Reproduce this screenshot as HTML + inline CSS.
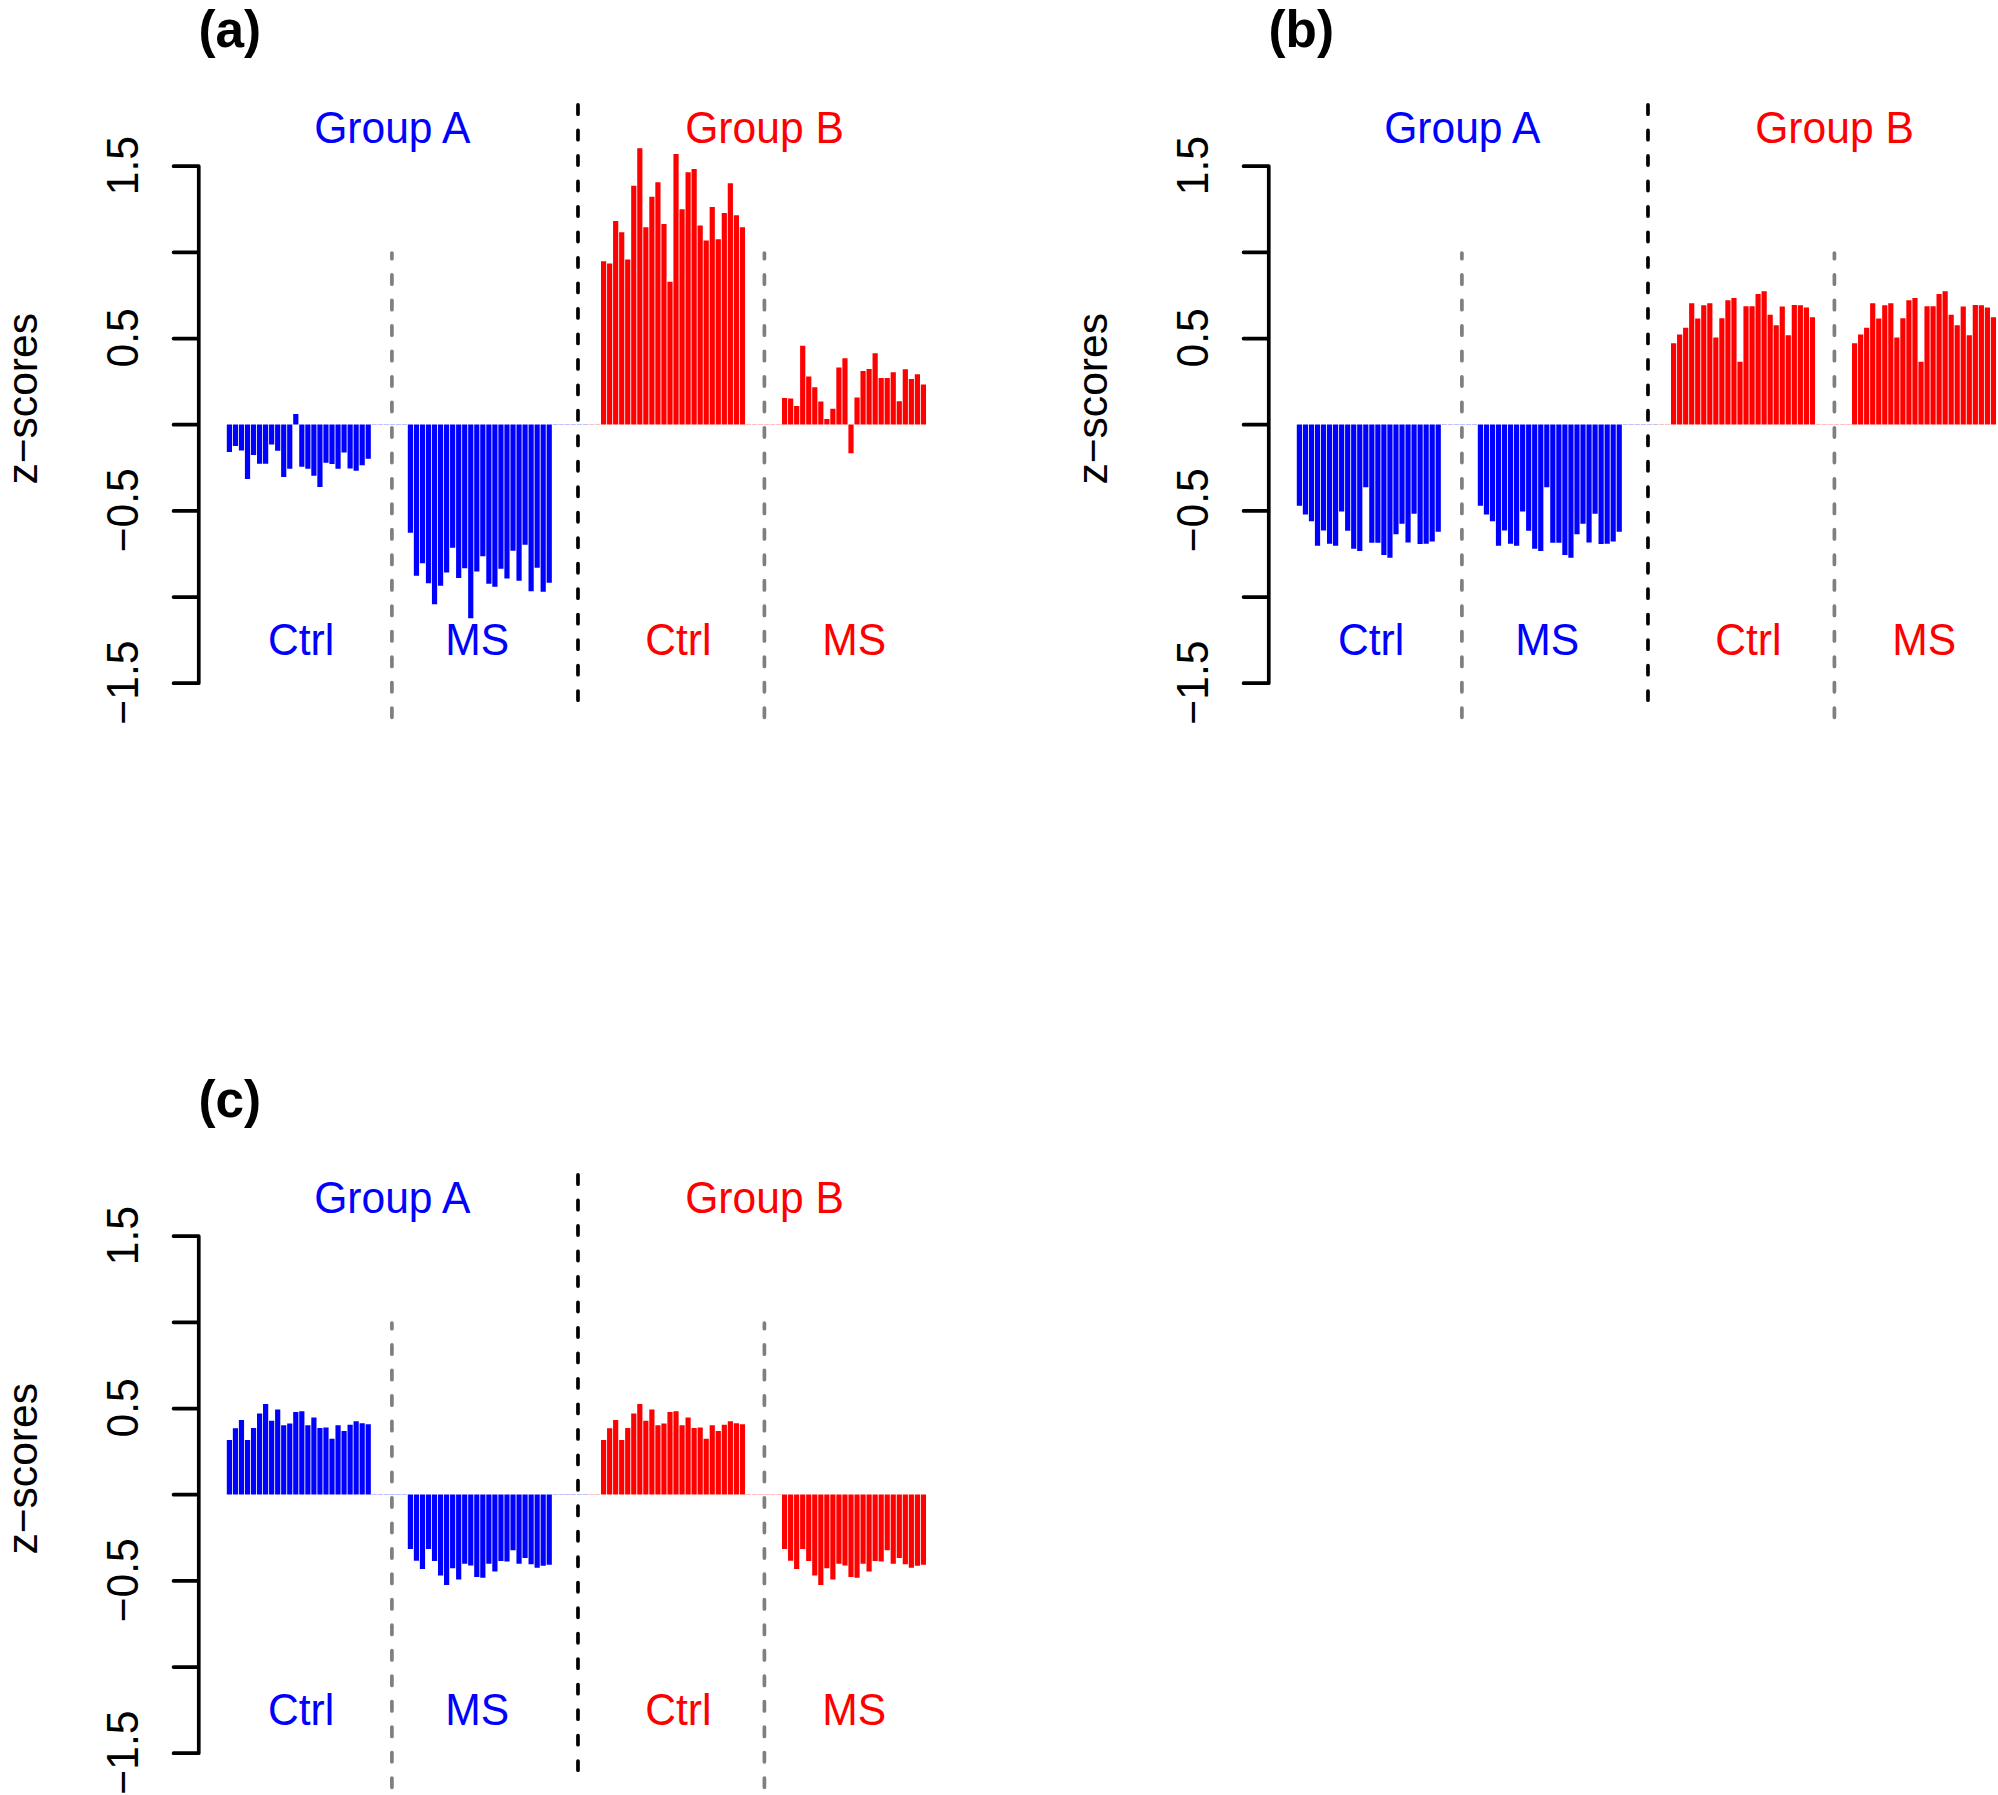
<!DOCTYPE html>
<html lang="en">
<head>
<meta charset="utf-8">
<title>z-scores bar plots</title>
<style>
html,body{margin:0;padding:0;background:#fff;}
body{width:1998px;height:1795px;overflow:hidden;}
svg{display:block;}
svg text{font-family:"Liberation Sans",sans-serif;}
</style>
</head>
<body>
<svg width="1998" height="1795" viewBox="0 0 1998 1795">
<rect width="1998" height="1795" fill="#fff"/>
<g id="panel-a">
<path d="M198.77 166.20V683.22M198.77 166.20h-25.2M198.77 252.37h-25.2M198.77 338.54h-25.2M198.77 424.71h-25.2M198.77 510.88h-25.2M198.77 597.05h-25.2M198.77 683.22h-25.2" fill="none" stroke="#000" stroke-width="3.7" stroke-linecap="round" stroke-linejoin="round"/>
<text transform="translate(138.30 165.60) rotate(-90) scale(1 1.03)" text-anchor="middle" font-size="42.6" fill="#000">1.5</text>
<text transform="translate(138.30 337.94) rotate(-90) scale(1 1.03)" text-anchor="middle" font-size="42.6" fill="#000">0.5</text>
<text transform="translate(138.30 510.28) rotate(-90) scale(1 1.03)" text-anchor="middle" font-size="42.6" fill="#000">−0.5</text>
<text transform="translate(138.30 682.62) rotate(-90) scale(1 1.03)" text-anchor="middle" font-size="42.6" fill="#000">−1.5</text>
<text transform="translate(36.90 398.80) rotate(-90) scale(1 0.98)" text-anchor="middle" font-size="42.6" fill="#000">z−scores</text>
<text transform="translate(198.50 47.00)" text-anchor="start" font-size="51.3" fill="#000" font-weight="bold">(a)</text>
<rect x="371.66" y="424.05" width="5.20" height="0.9" fill="#0000ff" opacity="0.28"/>
<rect x="377.70" y="424.05" width="5.20" height="0.9" fill="#0000ff" opacity="0.28"/>
<rect x="383.74" y="424.05" width="5.20" height="0.9" fill="#0000ff" opacity="0.28"/>
<rect x="389.77" y="424.05" width="5.20" height="0.9" fill="#0000ff" opacity="0.28"/>
<rect x="395.81" y="424.05" width="5.20" height="0.9" fill="#0000ff" opacity="0.28"/>
<rect x="401.84" y="424.05" width="5.20" height="0.9" fill="#0000ff" opacity="0.28"/>
<rect x="552.66" y="424.05" width="5.20" height="0.9" fill="#0000ff" opacity="0.28"/>
<rect x="558.70" y="424.05" width="5.20" height="0.9" fill="#0000ff" opacity="0.28"/>
<rect x="564.74" y="424.05" width="5.20" height="0.9" fill="#0000ff" opacity="0.28"/>
<rect x="570.77" y="424.05" width="5.20" height="0.9" fill="#0000ff" opacity="0.28"/>
<rect x="576.81" y="424.05" width="5.20" height="0.9" fill="#0000ff" opacity="0.28"/>
<rect x="582.84" y="424.05" width="5.20" height="0.9" fill="#0000ff" opacity="0.28"/>
<rect x="588.88" y="424.05" width="5.20" height="0.9" fill="#ff0000" opacity="0.28"/>
<rect x="594.92" y="424.05" width="5.20" height="0.9" fill="#ff0000" opacity="0.28"/>
<rect x="745.86" y="424.05" width="5.20" height="0.9" fill="#ff0000" opacity="0.28"/>
<rect x="751.90" y="424.05" width="5.20" height="0.9" fill="#ff0000" opacity="0.28"/>
<rect x="757.94" y="424.05" width="5.20" height="0.9" fill="#ff0000" opacity="0.28"/>
<rect x="763.97" y="424.05" width="5.20" height="0.9" fill="#ff0000" opacity="0.28"/>
<rect x="770.01" y="424.05" width="5.20" height="0.9" fill="#ff0000" opacity="0.28"/>
<rect x="776.04" y="424.05" width="5.20" height="0.9" fill="#ff0000" opacity="0.28"/>
<path fill="#0000ff" d="M226.80 424.50h5.20v27.55h-5.20zM232.84 424.50h5.20v21.39h-5.20zM238.87 424.50h5.20v26.11h-5.20zM244.91 424.50h5.20v54.54h-5.20zM250.94 424.50h5.20v30.43h-5.20zM256.98 424.50h5.20v39.16h-5.20zM263.02 424.50h5.20v39.16h-5.20zM269.05 424.50h5.20v20.10h-5.20zM275.09 424.50h5.20v26.35h-5.20zM281.12 424.50h5.20v52.54h-5.20zM287.16 424.50h5.20v44.37h-5.20zM293.20 414.01h5.20v10.49h-5.20zM299.23 424.50h5.20v42.37h-5.20zM305.27 424.50h5.20v44.37h-5.20zM311.30 424.50h5.20v51.18h-5.20zM317.34 424.50h5.20v62.39h-5.20zM323.38 424.50h5.20v38.36h-5.20zM329.41 424.50h5.20v39.40h-5.20zM335.45 424.50h5.20v44.37h-5.20zM341.48 424.50h5.20v28.11h-5.20zM347.52 424.50h5.20v43.97h-5.20zM353.56 424.50h5.20v46.37h-5.20zM359.59 424.50h5.20v40.77h-5.20zM365.63 424.50h5.20v34.36h-5.20z"/>
<path fill="#0000ff" d="M407.80 424.50h5.20v108.27h-5.20zM413.84 424.50h5.20v151.35h-5.20zM419.87 424.50h5.20v138.70h-5.20zM425.91 424.50h5.20v158.80h-5.20zM431.94 424.50h5.20v179.78h-5.20zM437.98 424.50h5.20v161.20h-5.20zM444.02 424.50h5.20v147.99h-5.20zM450.05 424.50h5.20v123.16h-5.20zM456.09 424.50h5.20v153.59h-5.20zM462.12 424.50h5.20v143.74h-5.20zM468.16 424.50h5.20v193.79h-5.20zM474.20 424.50h5.20v146.95h-5.20zM480.23 424.50h5.20v131.73h-5.20zM486.27 424.50h5.20v159.20h-5.20zM492.30 424.50h5.20v162.16h-5.20zM498.34 424.50h5.20v144.14h-5.20zM504.38 424.50h5.20v153.99h-5.20zM510.41 424.50h5.20v126.13h-5.20zM516.45 424.50h5.20v156.32h-5.20zM522.48 424.50h5.20v120.28h-5.20zM528.52 424.50h5.20v166.81h-5.20zM534.56 424.50h5.20v143.34h-5.20zM540.59 424.50h5.20v167.13h-5.20zM546.63 424.50h5.20v158.32h-5.20z"/>
<path fill="#ff0000" d="M601.00 261.32h5.20v163.18h-5.20zM607.04 263.49h5.20v161.01h-5.20zM613.07 220.88h5.20v203.62h-5.20zM619.11 232.16h5.20v192.34h-5.20zM625.14 259.48h5.20v165.02h-5.20zM631.18 185.87h5.20v238.63h-5.20zM637.22 148.36h5.20v276.14h-5.20zM643.25 227.31h5.20v197.19h-5.20zM649.29 196.65h5.20v227.85h-5.20zM655.32 182.36h5.20v242.14h-5.20zM661.36 223.97h5.20v200.53h-5.20zM667.40 281.79h5.20v142.71h-5.20zM673.43 153.95h5.20v270.55h-5.20zM679.47 209.18h5.20v215.32h-5.20zM685.50 172.17h5.20v252.33h-5.20zM691.54 168.99h5.20v255.51h-5.20zM697.58 225.39h5.20v199.11h-5.20zM703.61 240.51h5.20v183.99h-5.20zM709.65 207.09h5.20v217.41h-5.20zM715.68 239.26h5.20v185.24h-5.20zM721.72 213.11h5.20v211.39h-5.20zM727.76 183.20h5.20v241.30h-5.20zM733.79 215.20h5.20v209.30h-5.20zM739.83 227.31h5.20v197.19h-5.20z"/>
<path fill="#ff0000" d="M782.00 398.06h5.20v26.44h-5.20zM788.04 398.46h5.20v26.04h-5.20zM794.07 406.07h5.20v18.43h-5.20zM800.11 345.77h5.20v78.73h-5.20zM806.14 376.44h5.20v48.06h-5.20zM812.18 387.25h5.20v37.25h-5.20zM818.22 401.50h5.20v23.00h-5.20zM824.25 418.88h5.20v5.62h-5.20zM830.29 408.87h5.20v15.63h-5.20zM836.32 367.47h5.20v57.03h-5.20zM842.36 358.18h5.20v66.32h-5.20zM848.40 424.50h5.20v28.81h-5.20zM854.43 397.50h5.20v27.00h-5.20zM860.47 370.99h5.20v53.51h-5.20zM866.50 369.07h5.20v55.43h-5.20zM872.54 353.21h5.20v71.29h-5.20zM878.58 378.04h5.20v46.46h-5.20zM884.61 378.04h5.20v46.46h-5.20zM890.65 372.19h5.20v52.31h-5.20zM896.68 401.26h5.20v23.24h-5.20zM902.72 369.23h5.20v55.27h-5.20zM908.76 379.00h5.20v45.50h-5.20zM914.79 374.19h5.20v50.31h-5.20zM920.83 384.44h5.20v40.06h-5.20z"/>
<path d="M577.98 104.95V700.40" stroke="#000" stroke-width="3.7" stroke-linecap="round" stroke-dasharray="9.2 16.28" fill="none"/>
<path d="M391.90 717.35V253.00" stroke="#7f7f7f" stroke-width="3.7" stroke-linecap="round" stroke-dasharray="9.3 16.18" fill="none"/>
<path d="M764.40 717.35V253.00" stroke="#7f7f7f" stroke-width="3.7" stroke-linecap="round" stroke-dasharray="9.3 16.18" fill="none"/>
<text transform="translate(392.30 142.80) scale(1 1.02)" text-anchor="middle" font-size="42.6" fill="#0000ff">Group A</text>
<text transform="translate(764.50 142.80) scale(1 1.02)" text-anchor="middle" font-size="42.6" fill="#ff0000">Group B</text>
<text transform="translate(301.00 654.80) scale(1 1.02)" text-anchor="middle" font-size="42.6" fill="#0000ff">Ctrl</text>
<text transform="translate(477.30 654.80) scale(1 1.045)" text-anchor="middle" font-size="42.6" fill="#0000ff">MS</text>
<text transform="translate(678.30 654.80) scale(1 1.02)" text-anchor="middle" font-size="42.6" fill="#ff0000">Ctrl</text>
<text transform="translate(854.30 654.80) scale(1 1.045)" text-anchor="middle" font-size="42.6" fill="#ff0000">MS</text>
</g>
<g id="panel-b">
<path d="M1268.77 166.20V683.22M1268.77 166.20h-25.2M1268.77 252.37h-25.2M1268.77 338.54h-25.2M1268.77 424.71h-25.2M1268.77 510.88h-25.2M1268.77 597.05h-25.2M1268.77 683.22h-25.2" fill="none" stroke="#000" stroke-width="3.7" stroke-linecap="round" stroke-linejoin="round"/>
<text transform="translate(1208.30 165.60) rotate(-90) scale(1 1.03)" text-anchor="middle" font-size="42.6" fill="#000">1.5</text>
<text transform="translate(1208.30 337.94) rotate(-90) scale(1 1.03)" text-anchor="middle" font-size="42.6" fill="#000">0.5</text>
<text transform="translate(1208.30 510.28) rotate(-90) scale(1 1.03)" text-anchor="middle" font-size="42.6" fill="#000">−0.5</text>
<text transform="translate(1208.30 682.62) rotate(-90) scale(1 1.03)" text-anchor="middle" font-size="42.6" fill="#000">−1.5</text>
<text transform="translate(1106.90 398.80) rotate(-90) scale(1 0.98)" text-anchor="middle" font-size="42.6" fill="#000">z−scores</text>
<text transform="translate(1268.50 47.00)" text-anchor="start" font-size="51.3" fill="#000" font-weight="bold">(b)</text>
<rect x="1441.66" y="424.05" width="5.20" height="0.9" fill="#0000ff" opacity="0.28"/>
<rect x="1447.70" y="424.05" width="5.20" height="0.9" fill="#0000ff" opacity="0.28"/>
<rect x="1453.74" y="424.05" width="5.20" height="0.9" fill="#0000ff" opacity="0.28"/>
<rect x="1459.77" y="424.05" width="5.20" height="0.9" fill="#0000ff" opacity="0.28"/>
<rect x="1465.81" y="424.05" width="5.20" height="0.9" fill="#0000ff" opacity="0.28"/>
<rect x="1471.84" y="424.05" width="5.20" height="0.9" fill="#0000ff" opacity="0.28"/>
<rect x="1622.66" y="424.05" width="5.20" height="0.9" fill="#0000ff" opacity="0.28"/>
<rect x="1628.70" y="424.05" width="5.20" height="0.9" fill="#0000ff" opacity="0.28"/>
<rect x="1634.74" y="424.05" width="5.20" height="0.9" fill="#0000ff" opacity="0.28"/>
<rect x="1640.77" y="424.05" width="5.20" height="0.9" fill="#0000ff" opacity="0.28"/>
<rect x="1646.81" y="424.05" width="5.20" height="0.9" fill="#0000ff" opacity="0.28"/>
<rect x="1652.84" y="424.05" width="5.20" height="0.9" fill="#0000ff" opacity="0.28"/>
<rect x="1658.88" y="424.05" width="5.20" height="0.9" fill="#ff0000" opacity="0.28"/>
<rect x="1664.92" y="424.05" width="5.20" height="0.9" fill="#ff0000" opacity="0.28"/>
<rect x="1815.86" y="424.05" width="5.20" height="0.9" fill="#ff0000" opacity="0.28"/>
<rect x="1821.90" y="424.05" width="5.20" height="0.9" fill="#ff0000" opacity="0.28"/>
<rect x="1827.94" y="424.05" width="5.20" height="0.9" fill="#ff0000" opacity="0.28"/>
<rect x="1833.97" y="424.05" width="5.20" height="0.9" fill="#ff0000" opacity="0.28"/>
<rect x="1840.01" y="424.05" width="5.20" height="0.9" fill="#ff0000" opacity="0.28"/>
<rect x="1846.04" y="424.05" width="5.20" height="0.9" fill="#ff0000" opacity="0.28"/>
<path fill="#0000ff" d="M1296.80 424.50h5.20v81.30h-5.20zM1302.84 424.50h5.20v89.94h-5.20zM1308.87 424.50h5.20v96.75h-5.20zM1314.91 424.50h5.20v121.18h-5.20zM1320.94 424.50h5.20v106.12h-5.20zM1326.98 424.50h5.20v119.17h-5.20zM1333.02 424.50h5.20v121.34h-5.20zM1339.05 424.50h5.20v86.90h-5.20zM1345.09 424.50h5.20v106.20h-5.20zM1351.12 424.50h5.20v124.14h-5.20zM1357.16 424.50h5.20v126.38h-5.20zM1363.20 424.50h5.20v62.72h-5.20zM1369.23 424.50h5.20v118.13h-5.20zM1375.27 424.50h5.20v118.21h-5.20zM1381.30 424.50h5.20v130.38h-5.20zM1387.34 424.50h5.20v133.35h-5.20zM1393.38 424.50h5.20v109.72h-5.20zM1399.41 424.50h5.20v99.15h-5.20zM1405.45 424.50h5.20v117.97h-5.20zM1411.48 424.50h5.20v89.30h-5.20zM1417.52 424.50h5.20v119.41h-5.20zM1423.56 424.50h5.20v119.17h-5.20zM1429.59 424.50h5.20v117.01h-5.20zM1435.63 424.50h5.20v107.32h-5.20z"/>
<path fill="#0000ff" d="M1477.80 424.50h5.20v81.30h-5.20zM1483.84 424.50h5.20v89.94h-5.20zM1489.87 424.50h5.20v96.75h-5.20zM1495.91 424.50h5.20v121.18h-5.20zM1501.94 424.50h5.20v106.12h-5.20zM1507.98 424.50h5.20v119.17h-5.20zM1514.02 424.50h5.20v121.34h-5.20zM1520.05 424.50h5.20v86.90h-5.20zM1526.09 424.50h5.20v106.20h-5.20zM1532.12 424.50h5.20v124.14h-5.20zM1538.16 424.50h5.20v126.38h-5.20zM1544.20 424.50h5.20v62.72h-5.20zM1550.23 424.50h5.20v118.13h-5.20zM1556.27 424.50h5.20v118.21h-5.20zM1562.30 424.50h5.20v130.38h-5.20zM1568.34 424.50h5.20v133.35h-5.20zM1574.38 424.50h5.20v109.72h-5.20zM1580.41 424.50h5.20v99.15h-5.20zM1586.45 424.50h5.20v117.97h-5.20zM1592.48 424.50h5.20v89.30h-5.20zM1598.52 424.50h5.20v119.41h-5.20zM1604.56 424.50h5.20v119.17h-5.20zM1610.59 424.50h5.20v117.01h-5.20zM1616.63 424.50h5.20v107.32h-5.20z"/>
<path fill="#ff0000" d="M1671.00 343.20h5.20v81.30h-5.20zM1677.04 334.56h5.20v89.94h-5.20zM1683.07 327.75h5.20v96.75h-5.20zM1689.11 303.32h5.20v121.18h-5.20zM1695.14 318.38h5.20v106.12h-5.20zM1701.18 305.33h5.20v119.17h-5.20zM1707.22 303.16h5.20v121.34h-5.20zM1713.25 337.60h5.20v86.90h-5.20zM1719.29 318.30h5.20v106.20h-5.20zM1725.32 300.36h5.20v124.14h-5.20zM1731.36 298.12h5.20v126.38h-5.20zM1737.40 361.78h5.20v62.72h-5.20zM1743.43 306.37h5.20v118.13h-5.20zM1749.47 306.29h5.20v118.21h-5.20zM1755.50 294.12h5.20v130.38h-5.20zM1761.54 291.15h5.20v133.35h-5.20zM1767.58 314.78h5.20v109.72h-5.20zM1773.61 325.35h5.20v99.15h-5.20zM1779.65 306.53h5.20v117.97h-5.20zM1785.68 335.20h5.20v89.30h-5.20zM1791.72 305.09h5.20v119.41h-5.20zM1797.76 305.33h5.20v119.17h-5.20zM1803.79 307.49h5.20v117.01h-5.20zM1809.83 317.18h5.20v107.32h-5.20z"/>
<path fill="#ff0000" d="M1852.00 343.20h5.20v81.30h-5.20zM1858.04 334.56h5.20v89.94h-5.20zM1864.07 327.75h5.20v96.75h-5.20zM1870.11 303.32h5.20v121.18h-5.20zM1876.14 318.38h5.20v106.12h-5.20zM1882.18 305.33h5.20v119.17h-5.20zM1888.22 303.16h5.20v121.34h-5.20zM1894.25 337.60h5.20v86.90h-5.20zM1900.29 318.30h5.20v106.20h-5.20zM1906.32 300.36h5.20v124.14h-5.20zM1912.36 298.12h5.20v126.38h-5.20zM1918.40 361.78h5.20v62.72h-5.20zM1924.43 306.37h5.20v118.13h-5.20zM1930.47 306.29h5.20v118.21h-5.20zM1936.50 294.12h5.20v130.38h-5.20zM1942.54 291.15h5.20v133.35h-5.20zM1948.58 314.78h5.20v109.72h-5.20zM1954.61 325.35h5.20v99.15h-5.20zM1960.65 306.53h5.20v117.97h-5.20zM1966.68 335.20h5.20v89.30h-5.20zM1972.72 305.09h5.20v119.41h-5.20zM1978.76 305.33h5.20v119.17h-5.20zM1984.79 307.49h5.20v117.01h-5.20zM1990.83 317.18h5.20v107.32h-5.20z"/>
<path d="M1647.98 104.95V700.40" stroke="#000" stroke-width="3.7" stroke-linecap="round" stroke-dasharray="9.2 16.28" fill="none"/>
<path d="M1461.90 717.35V253.00" stroke="#7f7f7f" stroke-width="3.7" stroke-linecap="round" stroke-dasharray="9.3 16.18" fill="none"/>
<path d="M1834.40 717.35V253.00" stroke="#7f7f7f" stroke-width="3.7" stroke-linecap="round" stroke-dasharray="9.3 16.18" fill="none"/>
<text transform="translate(1462.30 142.80) scale(1 1.02)" text-anchor="middle" font-size="42.6" fill="#0000ff">Group A</text>
<text transform="translate(1834.50 142.80) scale(1 1.02)" text-anchor="middle" font-size="42.6" fill="#ff0000">Group B</text>
<text transform="translate(1371.00 654.80) scale(1 1.02)" text-anchor="middle" font-size="42.6" fill="#0000ff">Ctrl</text>
<text transform="translate(1547.30 654.80) scale(1 1.045)" text-anchor="middle" font-size="42.6" fill="#0000ff">MS</text>
<text transform="translate(1748.30 654.80) scale(1 1.02)" text-anchor="middle" font-size="42.6" fill="#ff0000">Ctrl</text>
<text transform="translate(1924.30 654.80) scale(1 1.045)" text-anchor="middle" font-size="42.6" fill="#ff0000">MS</text>
</g>
<g id="panel-c">
<path d="M198.77 1236.20V1753.22M198.77 1236.20h-25.2M198.77 1322.37h-25.2M198.77 1408.54h-25.2M198.77 1494.71h-25.2M198.77 1580.88h-25.2M198.77 1667.05h-25.2M198.77 1753.22h-25.2" fill="none" stroke="#000" stroke-width="3.7" stroke-linecap="round" stroke-linejoin="round"/>
<text transform="translate(138.30 1235.60) rotate(-90) scale(1 1.03)" text-anchor="middle" font-size="42.6" fill="#000">1.5</text>
<text transform="translate(138.30 1407.94) rotate(-90) scale(1 1.03)" text-anchor="middle" font-size="42.6" fill="#000">0.5</text>
<text transform="translate(138.30 1580.28) rotate(-90) scale(1 1.03)" text-anchor="middle" font-size="42.6" fill="#000">−0.5</text>
<text transform="translate(138.30 1752.62) rotate(-90) scale(1 1.03)" text-anchor="middle" font-size="42.6" fill="#000">−1.5</text>
<text transform="translate(36.90 1468.80) rotate(-90) scale(1 0.98)" text-anchor="middle" font-size="42.6" fill="#000">z−scores</text>
<text transform="translate(198.50 1117.00)" text-anchor="start" font-size="51.3" fill="#000" font-weight="bold">(c)</text>
<rect x="371.66" y="1494.05" width="5.20" height="0.9" fill="#0000ff" opacity="0.28"/>
<rect x="377.70" y="1494.05" width="5.20" height="0.9" fill="#0000ff" opacity="0.28"/>
<rect x="383.74" y="1494.05" width="5.20" height="0.9" fill="#0000ff" opacity="0.28"/>
<rect x="389.77" y="1494.05" width="5.20" height="0.9" fill="#0000ff" opacity="0.28"/>
<rect x="395.81" y="1494.05" width="5.20" height="0.9" fill="#0000ff" opacity="0.28"/>
<rect x="401.84" y="1494.05" width="5.20" height="0.9" fill="#0000ff" opacity="0.28"/>
<rect x="552.66" y="1494.05" width="5.20" height="0.9" fill="#0000ff" opacity="0.28"/>
<rect x="558.70" y="1494.05" width="5.20" height="0.9" fill="#0000ff" opacity="0.28"/>
<rect x="564.74" y="1494.05" width="5.20" height="0.9" fill="#0000ff" opacity="0.28"/>
<rect x="570.77" y="1494.05" width="5.20" height="0.9" fill="#0000ff" opacity="0.28"/>
<rect x="576.81" y="1494.05" width="5.20" height="0.9" fill="#0000ff" opacity="0.28"/>
<rect x="582.84" y="1494.05" width="5.20" height="0.9" fill="#0000ff" opacity="0.28"/>
<rect x="588.88" y="1494.05" width="5.20" height="0.9" fill="#ff0000" opacity="0.28"/>
<rect x="594.92" y="1494.05" width="5.20" height="0.9" fill="#ff0000" opacity="0.28"/>
<rect x="745.86" y="1494.05" width="5.20" height="0.9" fill="#ff0000" opacity="0.28"/>
<rect x="751.90" y="1494.05" width="5.20" height="0.9" fill="#ff0000" opacity="0.28"/>
<rect x="757.94" y="1494.05" width="5.20" height="0.9" fill="#ff0000" opacity="0.28"/>
<rect x="763.97" y="1494.05" width="5.20" height="0.9" fill="#ff0000" opacity="0.28"/>
<rect x="770.01" y="1494.05" width="5.20" height="0.9" fill="#ff0000" opacity="0.28"/>
<rect x="776.04" y="1494.05" width="5.20" height="0.9" fill="#ff0000" opacity="0.28"/>
<path fill="#0000ff" d="M226.80 1440.09h5.20v54.41h-5.20zM232.84 1428.23h5.20v66.27h-5.20zM238.87 1420.07h5.20v74.43h-5.20zM244.91 1440.09h5.20v54.41h-5.20zM250.94 1428.07h5.20v66.43h-5.20zM256.98 1413.58h5.20v80.92h-5.20zM263.02 1404.05h5.20v90.45h-5.20zM269.05 1420.87h5.20v73.63h-5.20zM275.09 1409.41h5.20v85.09h-5.20zM281.12 1425.19h5.20v69.31h-5.20zM287.16 1423.43h5.20v71.07h-5.20zM293.20 1412.06h5.20v82.44h-5.20zM299.23 1411.26h5.20v83.24h-5.20zM305.27 1425.27h5.20v69.23h-5.20zM311.30 1417.42h5.20v77.08h-5.20zM317.34 1428.07h5.20v66.43h-5.20zM323.38 1427.43h5.20v67.07h-5.20zM329.41 1438.64h5.20v55.86h-5.20zM335.45 1425.27h5.20v69.23h-5.20zM341.48 1431.04h5.20v63.46h-5.20zM347.52 1424.63h5.20v69.87h-5.20zM353.56 1421.27h5.20v73.23h-5.20zM359.59 1423.19h5.20v71.31h-5.20zM365.63 1424.23h5.20v70.27h-5.20z"/>
<path fill="#0000ff" d="M407.80 1494.50h5.20v54.41h-5.20zM413.84 1494.50h5.20v66.27h-5.20zM419.87 1494.50h5.20v74.43h-5.20zM425.91 1494.50h5.20v54.41h-5.20zM431.94 1494.50h5.20v66.43h-5.20zM437.98 1494.50h5.20v80.92h-5.20zM444.02 1494.50h5.20v90.45h-5.20zM450.05 1494.50h5.20v73.63h-5.20zM456.09 1494.50h5.20v85.09h-5.20zM462.12 1494.50h5.20v69.31h-5.20zM468.16 1494.50h5.20v71.07h-5.20zM474.20 1494.50h5.20v82.44h-5.20zM480.23 1494.50h5.20v83.24h-5.20zM486.27 1494.50h5.20v69.23h-5.20zM492.30 1494.50h5.20v77.08h-5.20zM498.34 1494.50h5.20v66.43h-5.20zM504.38 1494.50h5.20v67.07h-5.20zM510.41 1494.50h5.20v55.86h-5.20zM516.45 1494.50h5.20v69.23h-5.20zM522.48 1494.50h5.20v63.46h-5.20zM528.52 1494.50h5.20v69.87h-5.20zM534.56 1494.50h5.20v73.23h-5.20zM540.59 1494.50h5.20v71.31h-5.20zM546.63 1494.50h5.20v70.27h-5.20z"/>
<path fill="#ff0000" d="M601.00 1440.09h5.20v54.41h-5.20zM607.04 1428.23h5.20v66.27h-5.20zM613.07 1420.07h5.20v74.43h-5.20zM619.11 1440.09h5.20v54.41h-5.20zM625.14 1428.07h5.20v66.43h-5.20zM631.18 1413.58h5.20v80.92h-5.20zM637.22 1404.05h5.20v90.45h-5.20zM643.25 1420.87h5.20v73.63h-5.20zM649.29 1409.41h5.20v85.09h-5.20zM655.32 1425.19h5.20v69.31h-5.20zM661.36 1423.43h5.20v71.07h-5.20zM667.40 1412.06h5.20v82.44h-5.20zM673.43 1411.26h5.20v83.24h-5.20zM679.47 1425.27h5.20v69.23h-5.20zM685.50 1417.42h5.20v77.08h-5.20zM691.54 1428.07h5.20v66.43h-5.20zM697.58 1427.43h5.20v67.07h-5.20zM703.61 1438.64h5.20v55.86h-5.20zM709.65 1425.27h5.20v69.23h-5.20zM715.68 1431.04h5.20v63.46h-5.20zM721.72 1424.63h5.20v69.87h-5.20zM727.76 1421.27h5.20v73.23h-5.20zM733.79 1423.19h5.20v71.31h-5.20zM739.83 1424.23h5.20v70.27h-5.20z"/>
<path fill="#ff0000" d="M782.00 1494.50h5.20v54.41h-5.20zM788.04 1494.50h5.20v66.27h-5.20zM794.07 1494.50h5.20v74.43h-5.20zM800.11 1494.50h5.20v54.41h-5.20zM806.14 1494.50h5.20v66.43h-5.20zM812.18 1494.50h5.20v80.92h-5.20zM818.22 1494.50h5.20v90.45h-5.20zM824.25 1494.50h5.20v73.63h-5.20zM830.29 1494.50h5.20v85.09h-5.20zM836.32 1494.50h5.20v69.31h-5.20zM842.36 1494.50h5.20v71.07h-5.20zM848.40 1494.50h5.20v82.44h-5.20zM854.43 1494.50h5.20v83.24h-5.20zM860.47 1494.50h5.20v69.23h-5.20zM866.50 1494.50h5.20v77.08h-5.20zM872.54 1494.50h5.20v66.43h-5.20zM878.58 1494.50h5.20v67.07h-5.20zM884.61 1494.50h5.20v55.86h-5.20zM890.65 1494.50h5.20v69.23h-5.20zM896.68 1494.50h5.20v63.46h-5.20zM902.72 1494.50h5.20v69.87h-5.20zM908.76 1494.50h5.20v73.23h-5.20zM914.79 1494.50h5.20v71.31h-5.20zM920.83 1494.50h5.20v70.27h-5.20z"/>
<path d="M577.98 1174.95V1770.40" stroke="#000" stroke-width="3.7" stroke-linecap="round" stroke-dasharray="9.2 16.28" fill="none"/>
<path d="M391.90 1787.35V1323.00" stroke="#7f7f7f" stroke-width="3.7" stroke-linecap="round" stroke-dasharray="9.3 16.18" fill="none"/>
<path d="M764.40 1787.35V1323.00" stroke="#7f7f7f" stroke-width="3.7" stroke-linecap="round" stroke-dasharray="9.3 16.18" fill="none"/>
<text transform="translate(392.30 1212.80) scale(1 1.02)" text-anchor="middle" font-size="42.6" fill="#0000ff">Group A</text>
<text transform="translate(764.50 1212.80) scale(1 1.02)" text-anchor="middle" font-size="42.6" fill="#ff0000">Group B</text>
<text transform="translate(301.00 1724.80) scale(1 1.02)" text-anchor="middle" font-size="42.6" fill="#0000ff">Ctrl</text>
<text transform="translate(477.30 1724.80) scale(1 1.045)" text-anchor="middle" font-size="42.6" fill="#0000ff">MS</text>
<text transform="translate(678.30 1724.80) scale(1 1.02)" text-anchor="middle" font-size="42.6" fill="#ff0000">Ctrl</text>
<text transform="translate(854.30 1724.80) scale(1 1.045)" text-anchor="middle" font-size="42.6" fill="#ff0000">MS</text>
</g>
</svg>
</body>
</html>
